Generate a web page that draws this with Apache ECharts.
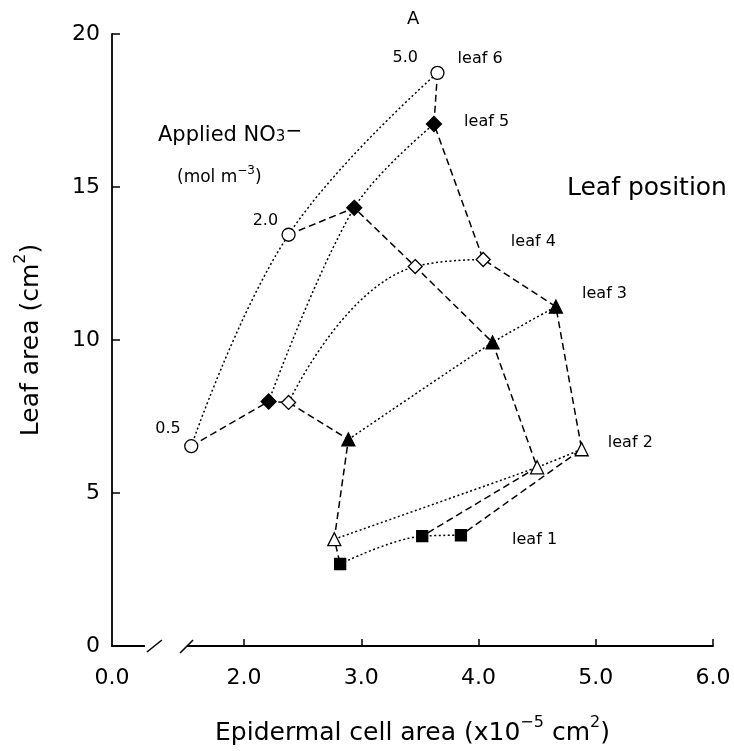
<!DOCTYPE html>
<html>
<head>
<meta charset="utf-8">
<script src="https://cdn.jsdelivr.net/npm/echarts@6/dist/echarts.min.js"></script>
<style>html,body{margin:0;padding:0;background:#fff}#c{width:734px;height:751px}</style>
</head>
<body>
<div id="c"></div>
<script>
// ---------- data ----------
const NO3_LEVELS = ['0.5', '2.0', '5.0'];
const LEAF_NAMES = ['leaf 1', 'leaf 2', 'leaf 3', 'leaf 4', 'leaf 5', 'leaf 6'];

// epidermal cell area (x10^-5 cm2) and leaf area (cm2) at NO3 = 0.5, 2.0, 5.0
const leaf1X = [2.82, 3.52, 3.85], leaf1Y = [2.68, 3.59, 3.62];
const leaf2X = [2.77, 4.50, 4.88], leaf2Y = [3.49, 5.84, 6.43];
const leaf3X = [2.89, 4.12, 4.66], leaf3Y = [6.75, 9.92, 11.09];
const leaf4X = [2.38, 3.46, 4.04], leaf4Y = [7.96, 12.40, 12.63];
const leaf5X = [2.21, 2.94, 3.62], leaf5Y = [7.99, 14.32, 17.06];
const leaf6X = [1.55, 2.38, 3.65], leaf6Y = [6.53, 13.44, 18.73];

const X_TICKS = [2, 3, 4, 5, 6];
const X_ORIGIN = 0.874;          // broken axis: value placed at the "0.0" origin
const X_ORIGIN_LABEL = '0.0';
const X_BREAK = [1.155, 1.514];  // span of the axis break
const Y_MIN = 0, Y_MAX = 20, Y_STEP = 5;

// ---------- styles ----------
const FONT = 'DejaVu Sans';
const leafX = [leaf1X, leaf2X, leaf3X, leaf4X, leaf5X, leaf6X];
const leafY = [leaf1Y, leaf2Y, leaf3Y, leaf4Y, leaf5Y, leaf6Y];
const leafStyles = [
  {symbol: 'rect',     size: 11, fill: '#000', off: [45, 5],   smooth: 0.35},
  {symbol: 'triangle', size: 13, fill: '#fff', off: [19, -6],  smooth: 0.2},
  {symbol: 'triangle', size: 13, fill: '#000', off: [19, -13], smooth: 0.2},
  {symbol: 'diamond',  size: 14, fill: '#fff', off: [20, -18], smooth: 0.5},
  {symbol: 'diamond',  size: 15, fill: '#000', off: [22, -2],  smooth: 0.35},
  {symbol: 'circle',   size: 13, fill: '#fff', off: [13, -14], smooth: 0.4}
];
const levelLabelOffsets = [[-10, -17], [-10, -14], [-19, -15]];
const smallText = {fontFamily: FONT, fontSize: 16, color: '#000'};

const leafSeries = leafX.map((xs, i) => {
  const st = leafStyles[i];
  return {
    type: 'line', name: LEAF_NAMES[i], smooth: st.smooth, z: 3,
    symbol: st.symbol, symbolSize: st.size, showSymbol: true,
    itemStyle: {color: st.fill, borderColor: '#000', borderWidth: 1.3},
    lineStyle: {color: '#000', width: 1.5, type: [2, 2.5]},
    emphasis: {disabled: true},
    data: xs.map((x, k) => ({
      value: [x, leafY[i][k]],
      label: k === 2 ? Object.assign({show: true, formatter: LEAF_NAMES[i], position: 'right', distance: 0, offset: st.off}, smallText) : {show: false}
    }))
  };
});

const levelSeries = NO3_LEVELS.map((lvl, k) => ({
  type: 'line', name: lvl, z: 2,
  symbol: 'circle', symbolSize: 1, showSymbol: true,
  itemStyle: {color: 'rgba(0,0,0,0)'},
  lineStyle: {color: '#000', width: 1.5, type: [7, 4]},
  emphasis: {disabled: true},
  data: [5, 4, 3, 2, 1, 0].map(i => ({
    value: [leafX[i][k], leafY[i][k]],
    label: i === 5 ? Object.assign({show: true, formatter: lvl, position: 'left', distance: 0, offset: levelLabelOffsets[k]}, smallText) : {show: false}
  }))
}));

const mainTok = (size, padTop, padBottom) => ({fontFamily: FONT, fontSize: size, fontWeight: 'normal', lineHeight: size + 2, color: '#000', padding: [padTop, 0, padBottom, 0], verticalAlign: 'middle'});
const supTok = (size, lh) => ({fontFamily: FONT, fontSize: size, fontWeight: 'normal', lineHeight: lh, color: '#000', verticalAlign: 'top'});
const subTok = (size, lh) => ({fontFamily: FONT, fontSize: size, fontWeight: 'normal', lineHeight: lh, color: '#000', verticalAlign: 'bottom'});

const chart = echarts.init(document.getElementById('c'), null, {renderer: 'canvas'});
chart.setOption({
  animation: false,
  backgroundColor: '#fff',
  grid: {left: 112, right: 21, top: 34, bottom: 104, containLabel: false},
  title: [
    {text: 'A', left: 407, top: 10, padding: 0, textStyle: {fontFamily: FONT, fontSize: 18, fontWeight: 'normal', color: '#000'}},
    {text: '{a|Applied NO}{sub|3}{sup|−}', left: 158, top: 122, padding: 0,
      textStyle: {fontWeight: 'normal', rich: {a: mainTok(21, 10, 6), sub: subTok(15, 15), sup: supTok(20, 16)}}},
    {text: '{a|(mol m}{sup|−3}{a|)}', left: 177, top: 165, padding: 0,
      textStyle: {fontWeight: 'normal', rich: {a: mainTok(17, 7, 0), sup: supTok(12, 12)}}},
    {text: 'Leaf position', left: 567, top: 176, padding: 0, textStyle: {fontFamily: FONT, fontSize: 25, fontWeight: 'normal', color: '#000'}}
  ],
  xAxis: {
    type: 'value', min: X_ORIGIN, max: X_TICKS[X_TICKS.length - 1],
    name: '{a|Epidermal cell area (x10}{sup|−5}{a| cm}{sup|2}{a|)}',
    nameLocation: 'middle', nameGap: 69,
    nameTextStyle: {rich: {a: mainTok(25, 10, 0), sup: supTok(16, 14)}},
    axisLine: {show: true, lineStyle: {color: '#000', width: 1.8}},
    axisTick: {show: true, inside: true, length: 7, customValues: X_TICKS, lineStyle: {color: '#000', width: 1.5}},
    axisLabel: {
      show: true, customValues: [X_ORIGIN].concat(X_TICKS), margin: 21,
      showMinLabel: true, showMaxLabel: true,
      fontFamily: FONT, fontSize: 22, color: '#000',
      formatter: v => Math.abs(v - X_ORIGIN) < 1e-6 ? X_ORIGIN_LABEL : v.toFixed(1)
    },
    splitLine: {show: false}
  },
  yAxis: {
    type: 'value', min: Y_MIN, max: Y_MAX, interval: Y_STEP,
    name: '{a|Leaf area (cm}{sup|2}{a|)}',
    nameLocation: 'middle', nameGap: 72,
    nameTextStyle: {rich: {a: mainTok(25, 10, 0), sup: supTok(16, 14)}},
    axisLine: {show: true, lineStyle: {color: '#000', width: 1.8}},
    axisTick: {show: true, inside: true, length: 8, lineStyle: {color: '#000', width: 1.5}},
    axisLabel: {show: true, margin: 12, fontFamily: FONT, fontSize: 22, color: '#000'},
    splitLine: {show: false}
  },
  series: levelSeries.concat(leafSeries)
});

// axis break marks, positioned through the axis scale
const p1 = chart.convertToPixel({gridIndex: 0}, [X_BREAK[0], 0]);
const p2 = chart.convertToPixel({gridIndex: 0}, [X_BREAK[1], 0]);
const by = p1[1];
chart.setOption({
  graphic: [
    {type: 'rect', z: 100, shape: {x: p1[0], y: by - 3, width: p2[0] - p1[0], height: 6}, style: {fill: '#fff'}},
    {type: 'line', z: 101, shape: {x1: p1[0] + 2, y1: by + 6, x2: p1[0] + 17, y2: by - 6}, style: {stroke: '#000', lineWidth: 1.6}},
    {type: 'line', z: 101, shape: {x1: p2[0] - 7, y1: by + 7, x2: p2[0] + 6, y2: by - 6}, style: {stroke: '#000', lineWidth: 1.6}}
  ]
});
</script>
</body>
</html>
